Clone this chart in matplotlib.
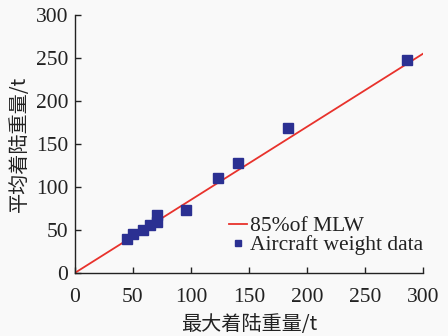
import matplotlib
matplotlib.use("Agg")
import matplotlib.pyplot as plt
import numpy as np

plt.rcParams['font.family'] = ['Liberation Serif', 'Noto Sans CJK SC']
plt.rcParams['mathtext.fontset'] = 'stix'

# Data
mlw = [45, 50, 59, 65, 70.5, 70.5, 96, 123, 140.5, 184, 286.5]
avg_landing = [39, 45, 50, 56, 59.5, 67, 73, 110, 128, 169, 248]
ratio = 0.85
line_x = [0, 300]
xticks = [0, 50, 100, 150, 200, 250, 300]
yticks = [0, 50, 100, 150, 200, 250, 300]

fig = plt.figure(figsize=(4.48, 3.36), dpi=100, facecolor='#f9f9f9')
ax = fig.add_axes([0.1674, 0.188, 0.7766, 0.767])
ax.set_facecolor('#f9f9f9')

ax.plot(line_x, [ratio * v for v in line_x], color='#e8322c', lw=1.3, label='85%of MLW')
ax.plot(mlw, avg_landing, ls='none', marker='s', ms=6.5, color='#2b3092', label='Aircraft weight data')

ax.set_xlim(0, 300)
ax.set_ylim(0, 300)
ax.set_xticks(xticks)
ax.set_yticks(yticks)
ax.tick_params(direction='in', length=4, width=1, labelsize=15.5, colors='#222222')
ax.tick_params(axis='x', pad=11)
ax.tick_params(axis='y', pad=5)
for s in ['top', 'right']:
    ax.spines[s].set_visible(False)
for s in ['left', 'bottom']:
    ax.spines[s].set_linewidth(1.0)
    ax.spines[s].set_color('#222222')

ax.set_xlabel('最大着陆重量/t', fontsize=14.5, family=['Noto Sans CJK SC'], labelpad=5, color='#222222')
ax.set_ylabel('平均着陆重量/t', fontsize=14.5, family=['Noto Sans CJK SC'], labelpad=4, color='#222222')

leg = ax.legend(loc='lower right', bbox_to_anchor=(1.025, 0.035), frameon=False, fontsize=15.5,
                handlelength=0.8, handletextpad=0.15, borderaxespad=0.0, labelspacing=-0.05,
                markerscale=0.6)
for t in leg.get_texts():
    t.set_color('#222222')

fig.savefig('out.png', dpi=100, facecolor=fig.get_facecolor())
